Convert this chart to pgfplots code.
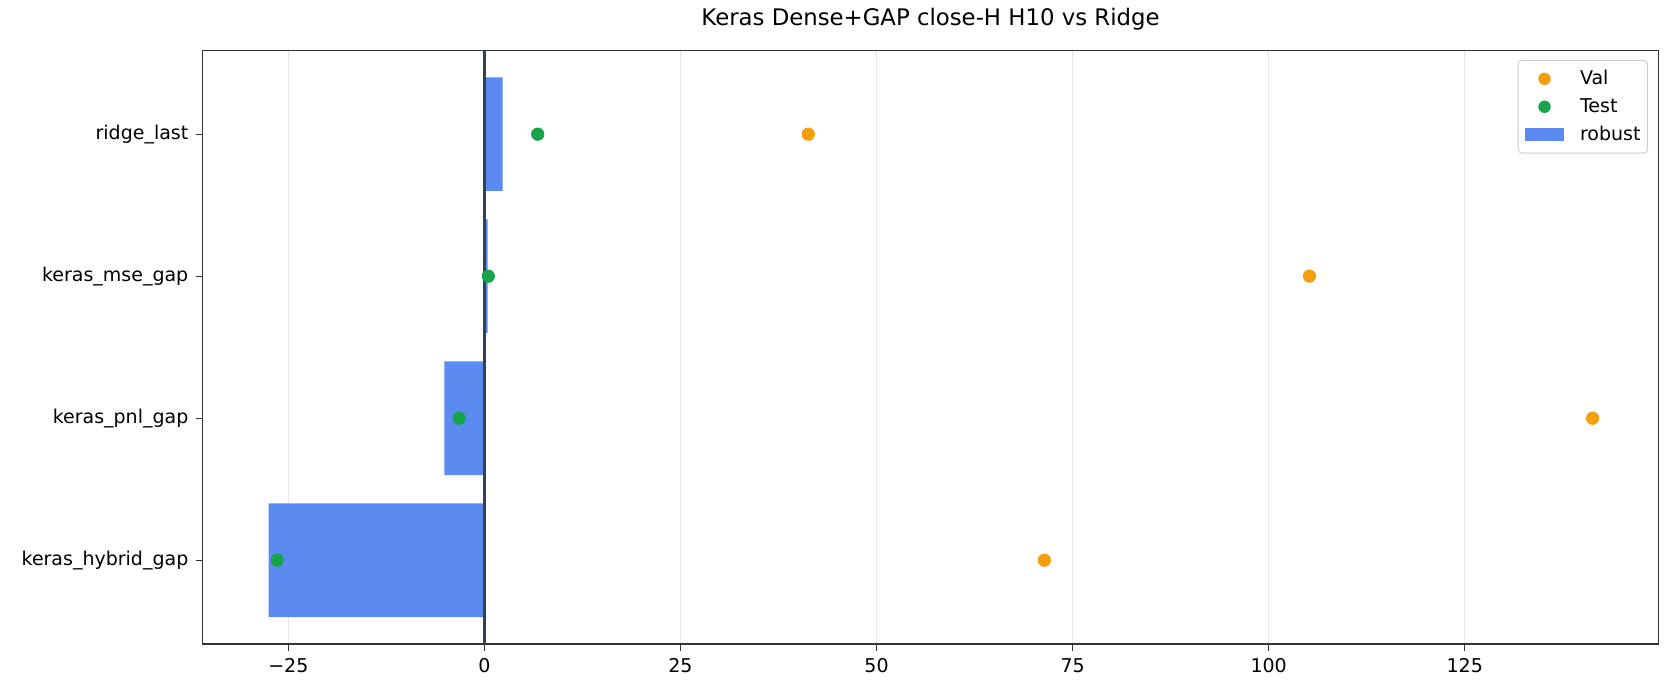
\documentclass[border=0pt]{standalone}
\usepackage{fontspec}
\setmainfont{DejaVu Sans}
\usepackage{pgfplots}
\pgfplotsset{compat=1.18}
\definecolor{barblue}{HTML}{5B8AF0}
\definecolor{valorange}{HTML}{F59E0B}
\definecolor{testgreen}{HTML}{16A34A}
\definecolor{zeroline}{HTML}{334155}
\definecolor{gridgray}{HTML}{E6E6E6}
\definecolor{spine}{HTML}{333333}
\begin{document}
\begin{tikzpicture}
\useasboundingbox (-101.25pt,-28pt) rectangle (738.75pt,322pt);
\begin{axis}[
  at={(0pt,0pt)}, anchor=south west,
  scale only axis, width=728pt, height=296.8pt,
  xmin=-35.94, xmax=149.7, ymin=-0.59, ymax=3.59,
  xtick={-25,0,25,50,75,100,125},
  xticklabels={−25,0,25,50,75,100,125},
  ytick={0,1,2,3},
  yticklabels={keras\_hybrid\_gap,keras\_pnl\_gap,keras\_mse\_gap,ridge\_last},
  tick align=outside, major tick length=3.4pt,
  tick style={spine, line width=0.65pt},
  xtick pos=bottom, ytick pos=left,
  xmajorgrids, ymajorgrids=false,
  major grid style={gridgray, line width=0.65pt},
  axis line style={spine, line width=0.65pt},
  ticklabel style={font=\fontsize{9.5}{11}\selectfont, inner sep=3.5pt},
  title={Keras Dense+GAP close-H H10 vs Ridge},
  title style={font=\fontsize{11.4}{13}\selectfont, anchor=base, at={(0.5,1)}, yshift=6.3pt},
  legend style={at={(1,1)}, xshift=-5.25pt, yshift=-4.8pt, anchor=north east,
    draw=black!20, line width=0.5pt, rounded corners=2pt, fill=white,
    font=\fontsize{9.5}{11}\selectfont, inner xsep=3.5pt, inner ysep=4.5pt,
    row sep=4.7pt, column sep=8pt,
    nodes={inner sep=0pt, text height=7.3pt, text depth=2pt}},
  legend cell align=left,
]
\addplot[xbar, bar width=0.8, fill=barblue, draw=none, forget plot] coordinates {
  (-27.5,0) (-5.1,1) (0.42,2) (2.34,3)};
\addplot[zeroline, line width=1.35pt, forget plot] coordinates {(0,-0.59) (0,3.59)};
\addplot[only marks, mark=*, mark size=3.1pt, color=valorange, mark options={draw=none, fill=valorange},
  legend image code/.code={\path[draw=none, fill=none, sharp corners] (0pt,-3.35pt) rectangle (19.5pt,3.35pt); \fill[valorange, draw=none, sharp corners] (9.75pt,0pt) circle (3.1pt);}] coordinates {
  (71.4,0) (141.3,1) (105.2,2) (41.3,3)};
\addlegendentry{Val}
\addplot[only marks, mark=*, mark size=3.1pt, color=testgreen, mark options={draw=none, fill=testgreen},
  legend image code/.code={\path[draw=none, fill=none, sharp corners] (0pt,-3.35pt) rectangle (19.5pt,3.35pt); \fill[testgreen, draw=none, sharp corners] (9.75pt,0pt) circle (3.1pt);}] coordinates {
  (-26.4,0) (-3.2,1) (0.5,2) (6.8,3)};
\addlegendentry{Test}
\addlegendimage{legend image code/.code={\fill[barblue, draw=none, sharp corners] (0pt,-3.35pt) rectangle (19.5pt,3.35pt);}}
\addlegendentry{robust}
\end{axis}
\end{tikzpicture}
\end{document}
